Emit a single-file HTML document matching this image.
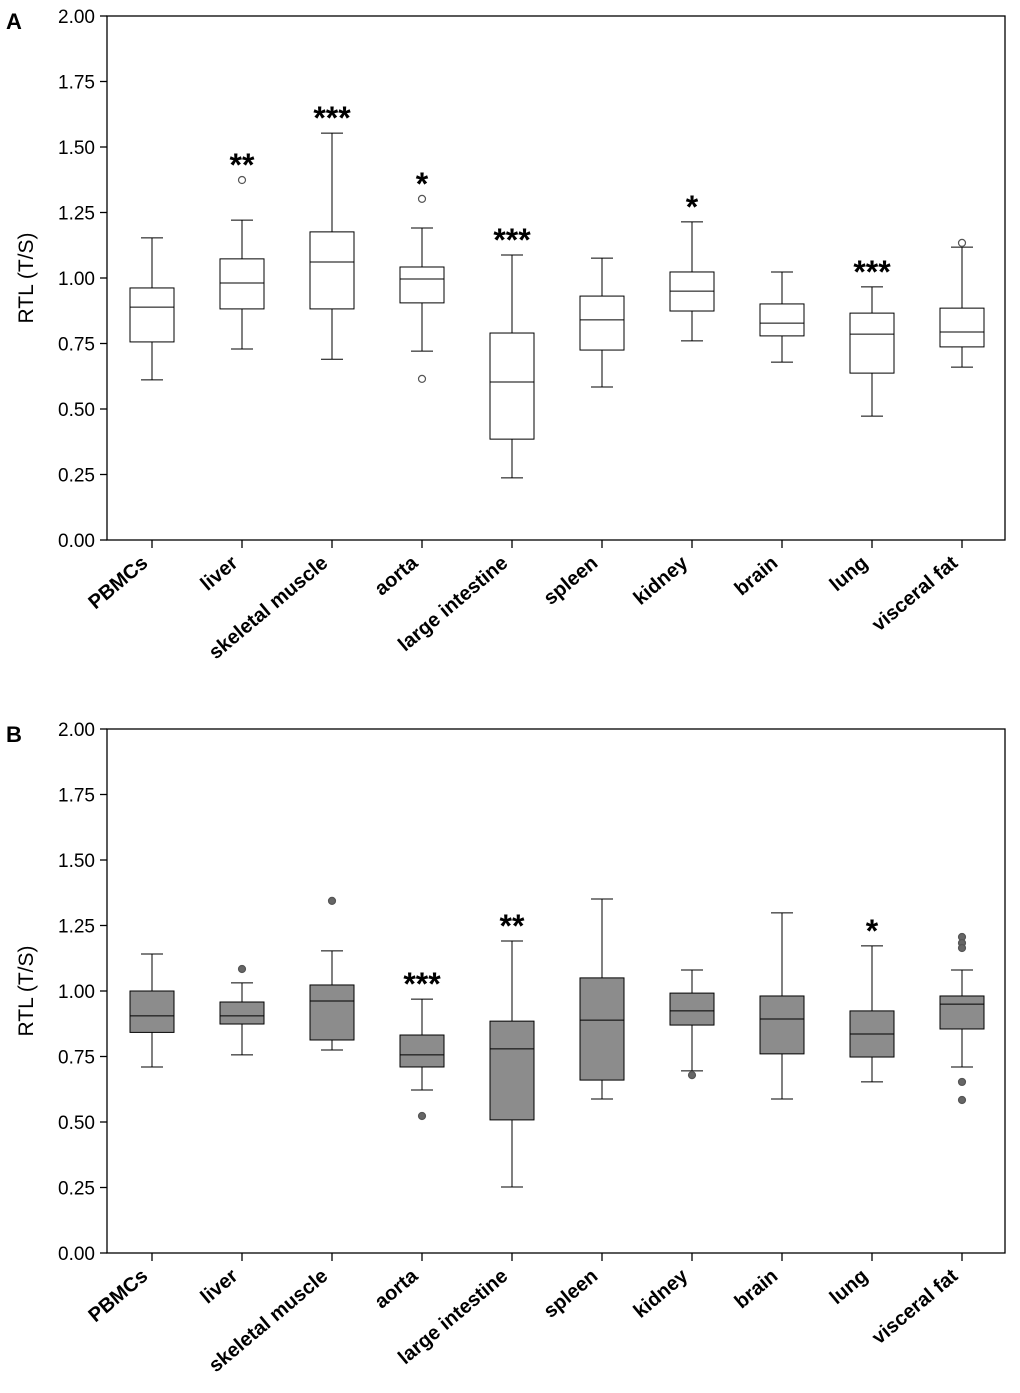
<!DOCTYPE html>
<html><head><meta charset="utf-8"><style>
body{margin:0;background:#fff}
svg{display:block;font-family:"Liberation Sans",Arial,sans-serif}
</style></head><body>
<svg id="chart" width="1020" height="1393"></svg>
<script>
const categories=["PBMCs","liver","skeletal muscle","aorta","large intestine","spleen","kidney","brain","lung","visceral fat"];
const yTicks=[0,0.25,0.5,0.75,1.0,1.25,1.5,1.75,2.0];
// [low whisker, Q1, median, Q3, high whisker]
const boxesA=[[0.611,0.756,0.889,0.962,1.153],[0.729,0.882,0.981,1.073,1.221],[0.690,0.882,1.061,1.176,1.553],[0.721,0.905,0.996,1.042,1.191],[0.237,0.385,0.603,0.790,1.088],[0.584,0.725,0.840,0.931,1.076],[0.760,0.874,0.950,1.023,1.214],[0.679,0.779,0.828,0.901,1.023],[0.473,0.637,0.786,0.866,0.966],[0.660,0.737,0.794,0.885,1.118]];
const outliersA=[[],[1.374],[],[1.302,0.615],[],[],[],[],[],[1.134]];
const starsA=["","**","***","*","***","","*","","***",""];
const boxesB=[[0.710,0.842,0.905,1.000,1.141],[0.756,0.874,0.905,0.958,1.031],[0.775,0.813,0.962,1.023,1.153],[0.622,0.710,0.756,0.832,0.969],[0.252,0.508,0.779,0.885,1.191],[0.588,0.660,0.889,1.050,1.351],[0.695,0.870,0.924,0.992,1.080],[0.588,0.760,0.893,0.981,1.298],[0.653,0.748,0.836,0.924,1.172],[0.710,0.855,0.950,0.981,1.080]];
const outliersB=[[],[1.084],[1.344],[0.523],[],[],[0.679],[],[],[1.206,1.183,1.164,0.653,0.584]];
const starsB=["","","","***","**","","","","*",""];

const NS="http://www.w3.org/2000/svg";
const svg=document.getElementById('chart');
function mk(tag,attrs,parent,text){const e=document.createElementNS(NS,tag);for(const k in attrs)e.setAttribute(k,attrs[k]);if(text!==undefined)e.textContent=text;(parent||svg).appendChild(e);return e;}

function panel(top,boxes,outs,stars,fill,label,oc){
  const L=107,R=1005,T=top,B=top+524;
  const y=v=>B-(v/2)*(B-T);
  const x=i=>152+i*90;
  const g=mk('g',{});
  
  
  const pl=mk('text',{x:6,y:T+13,'font-size':22,'font-weight':'bold'},g,label);
  
  const fr=mk('rect',{x:L,y:T,width:R-L,height:B-T,fill:'none',stroke:'#000','stroke-width':1.3},g);
  
  yTicks.forEach(t=>{
    mk('line',{x1:L-7,x2:L,y1:y(t),y2:y(t),stroke:'#000','stroke-width':1.3},g);
    const tl=mk('text',{x:L-12,y:y(t)+7,'font-size':19,'text-anchor':'end'},g,t.toFixed(2));
    
  });
  const yt=mk('text',{x:0,y:0,'font-size':21,'text-anchor':'middle',transform:`translate(33,${(T+B)/2}) rotate(-90)`},g,'RTL (T/S)');
  
  categories.forEach((c,i)=>{
    const cx=x(i),b=boxes[i],w=22;
    mk('line',{x1:cx,x2:cx,y1:B,y2:B+8,stroke:'#000','stroke-width':1.3},g);
    const xl=mk('text',{x:0,y:0,'font-size':20,'font-weight':'bold','text-anchor':'end',transform:`translate(${cx-3},${B+25}) rotate(-40)`},g,c);
    
    const bg=mk('g',{},g);
    
    
    mk('line',{x1:cx,x2:cx,y1:y(b[4]),y2:y(b[3]),stroke:'#000','stroke-width':1},bg);
    mk('line',{x1:cx,x2:cx,y1:y(b[1]),y2:y(b[0]),stroke:'#000','stroke-width':1},bg);
    mk('line',{x1:cx-11,x2:cx+11,y1:y(b[4]),y2:y(b[4]),stroke:'#000','stroke-width':1},bg);
    mk('line',{x1:cx-11,x2:cx+11,y1:y(b[0]),y2:y(b[0]),stroke:'#000','stroke-width':1},bg);
    mk('rect',{x:cx-w,y:y(b[3]),width:2*w,height:y(b[1])-y(b[3]),fill:fill,stroke:'#000','stroke-width':1},bg);
    mk('line',{x1:cx-w,x2:cx+w,y1:y(b[2]),y2:y(b[2]),stroke:'#000','stroke-width':1},bg);
    outs[i].forEach(o=>{
      const p=mk('circle',{cx:cx,cy:y(o),r:3.5,fill:oc,stroke:'#555','stroke-width':1.2},bg);
      
    });
    if(stars[i]){
      const topv=Math.max(b[4],...outs[i]);
      const s=mk('text',{x:cx,y:y(topv)-4,'font-size':32,'font-weight':'bold','text-anchor':'middle'},g,stars[i]);
      
    }
  });
}
panel(16,boxesA,outliersA,starsA,'#fff','A','#fff');
panel(729,boxesB,outliersB,starsB,'#8c8c8c','B','#666');
</script>
</body></html>
